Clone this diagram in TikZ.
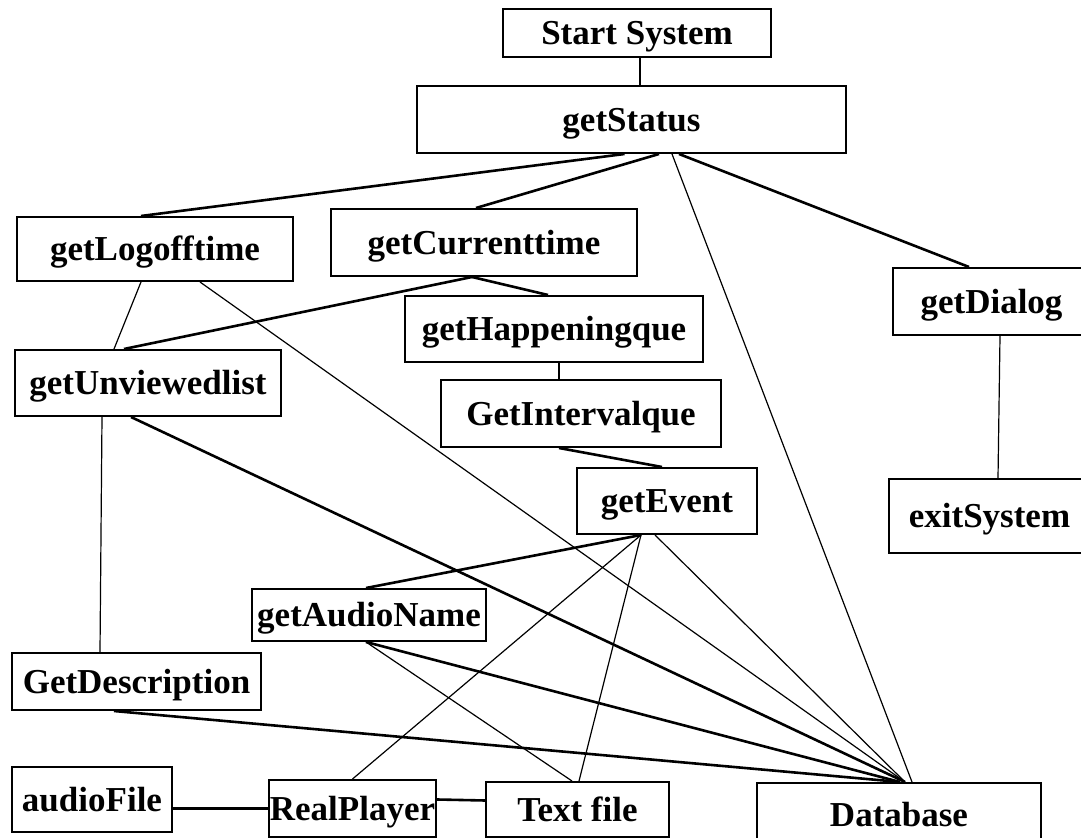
\documentclass[tikz,border=0pt]{standalone}
\usepackage{fontspec}
\setmainfont{Liberation Serif}
\usepackage{tikz}
\usetikzlibrary{calc}

\begin{document}
\begin{tikzpicture}[
    x=0.5pt, y=-0.5pt,
    block/.style={rectangle, draw=black, line width=1pt, inner sep=0pt, align=center, text height=16pt, text depth=4pt, font=\fontsize{17.5}{20}\selectfont\bfseries},
    sz/.style 2 args={minimum width=#1*0.5pt, minimum height=#2*0.5pt},
    link/.style={line width=1.3pt, black},
    linkthin/.style={line width=0.6pt, black}
]
\useasboundingbox (0,0) rectangle (1081,838);

% --- Topo ---
\node[block, sz={268}{48}] (start) at (637,33) {Start System};
\node[block, sz={429}{67}] (status) at (631.5,119.5) {getStatus};

% --- Segunda linha ---
\node[block, sz={276}{64}] (logoff) at (155,249) {getLogofftime};
\node[block, sz={306}{67}] (current) at (484,242.5) {getCurrenttime};
\node[block, sz={197}{67}] (dialog) at (991.5,301.5) {getDialog};

% --- Coluna central ---
\node[block, sz={298}{66}] (happen) at (554,329) {getHappeningque};
\node[block, sz={266}{66}] (unview) at (148,383) {getUnviewedlist};
\node[block, sz={280}{67}] (interval) at (581,413.5) {GetIntervalque};
\node[block, sz={180}{66}] (event) at (667,501) {getEvent};
\node[block, sz={201}{74}] (exit) at (989.5,516) {exitSystem};

% --- Parte de baixo ---
\node[block, sz={234}{52}] (audioname) at (369,615) {getAudioName};
\node[block, sz={249}{57}] (descr) at (136.5,681.5) {GetDescription};
\node[block, sz={160}{65}] (audiofile) at (92,799.5) {audioFile};
\node[block, sz={167}{57}] (realplayer) at (352.5,808.5) {RealPlayer};
\node[block, sz={183}{55}] (textfile) at (577.5,809.5) {Text file};
\node[block, sz={284}{62}] (database) at (899,814) {Database};

% === LIGACOES ===
\draw[linkthin] ($(start.south)+(3,0)$) -- ($(status.north)+(8.5,0)$);
\draw[link] ($(status.south)+(-7,0)$) -- ($(logoff.north)+(-14,0)$);
\draw[link] ($(status.south)+(27.5,0)$) -- ($(current.north)+(-8,0)$);
\draw[linkthin] ($(status.south)+(40.5,0)$) -- ($(database.north)+(13,0)$);
\draw[link] ($(status.south)+(47.5,0)$) -- ($(dialog.north)+(-22.5,0)$);

\draw[linkthin] ($(logoff.south)+(-14,0)$) -- ($(unview.north)+(-34,0)$);
\draw[linkthin] ($(logoff.south)+(45,0)$) -- ($(database.north)+(6,0)$);
\draw[link] ($(current.south)+(-12,0)$) -- ($(unview.north)+(-24,0)$);
\draw[link] ($(current.south)+(-12,0)$) -- ($(happen.north)+(-6,0)$);
\draw[linkthin] ($(happen.south)+(5,0)$) -- ($(interval.north)+(-22,0)$);
\draw[link] ($(interval.south)+(-22,0)$) -- ($(event.north)+(-5,0)$);
\draw[linkthin] ($(dialog.south)+(8.5,0)$) -- ($(exit.north)+(8.5,0)$);

% getUnviewedlist
\draw[linkthin] ($(unview.south)+(-46,0)$) -- ($(descr.north)+(-36.5,0)$);
\draw[link] ($(unview.south)+(-17,0)$) -- ($(database.north)+(6,0)$);

% getEvent
\draw[link] ($(event.south)+(-26,0)$) -- ($(audioname.north)+(-3,0)$);
\draw[linkthin] ($(event.south)+(-26,0)$) -- (realplayer.north);
\draw[linkthin] ($(event.south)+(-26,0)$) -- ($(textfile.north)+(1.5,0)$);
\draw[linkthin] ($(event.south)+(-12,0)$) -- ($(database.north)+(6,0)$);

% getAudioName e GetDescription
\draw[linkthin] ($(audioname.south)+(-3,0)$) -- ($(textfile.north)+(-5.5,0)$);
\draw[link] ($(audioname.south)+(-3,0)$) -- ($(database.north)+(1,0)$);
\draw[link] ($(descr.south)+(-22.5,0)$) -- ($(database.north)+(1,0)$);

% Linha de baixo
\draw[link] (realplayer.west -| audiofile.east) -- (realplayer.west);
\draw[link] ($(realplayer.east)+(0,-9)$) -- ($(textfile.west)+(0,-9)$);

\end{tikzpicture}
\end{document}
